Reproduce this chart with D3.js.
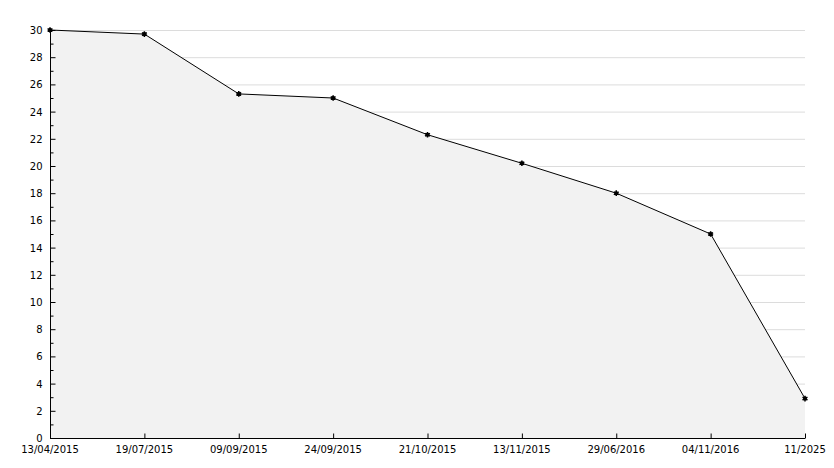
<!DOCTYPE html>
<html><head><meta charset="utf-8">
<script src="https://cdn.jsdelivr.net/npm/d3@7"></script>
<style>body{margin:0;background:#fff}text{font-family:"DejaVu Sans",sans-serif;font-size:10px;fill:#000}</style>
</head><body><svg width="834" height="468"></svg>
<script>
const categories=["13/04/2015","19/07/2015","09/09/2015","24/09/2015","21/10/2015","13/11/2015","29/06/2016","04/11/2016","11/2025"];
const values=[30,29.7,25.3,25,22.3,20.2,18,15,2.9];
const yTicks=d3.range(0,31,2);
const svg=d3.select("svg");
const x=d3.scalePoint().domain(categories).range([50,805]);
const y=d3.scaleLinear().domain([0,30]).range([438,30]);
svg.append("g").selectAll("line").data(yTicks.filter(d=>d>0)).join("line")
 .attr("x1",50).attr("x2",805).attr("y1",d=>y(d)+.5).attr("y2",d=>y(d)+.5).attr("stroke","#dcdcdc");
const data=categories.map((c,i)=>({c,v:values[i]}));
svg.append("path").datum(data).attr("fill","#f2f2f2")
 .attr("d",d3.area().x(d=>x(d.c)).y0(y(0)).y1(d=>y(d.v)));
svg.append("path").datum(data).attr("fill","none").attr("stroke","#000")
 .attr("d",d3.line().x(d=>x(d.c)).y(d=>y(d.v)));
svg.append("g").selectAll("path").data(data).join("path")
 .attr("transform",d=>`translate(${x(d.c)},${y(d.v)})`)
 .attr("d",d3.symbol(d3.symbolAsterisk,22)).attr("stroke","#000").attr("stroke-width",1.5);
svg.append("g").selectAll("circle").data(data).join("circle")
 .attr("cx",d=>x(d.c)).attr("cy",d=>y(d.v)).attr("r",2);
// axes
const ya=svg.append("g").attr("transform","translate(50.5,0)");
ya.append("line").attr("y1",y(30)).attr("y2",y(0)).attr("stroke","#000");
ya.selectAll(".mj").data(yTicks).join("line").attr("x1",0).attr("x2",5).attr("y1",d=>y(d)+.5).attr("y2",d=>y(d)+.5).attr("stroke","#000");
ya.selectAll(".mn").data(d3.range(1,30,2)).join("line").attr("x1",0).attr("x2",3).attr("y1",d=>y(d)+.5).attr("y2",d=>y(d)+.5).attr("stroke","#000");
ya.selectAll("text").data(yTicks).join("text").attr("x",-8).attr("y",d=>y(d)+4).attr("text-anchor","end").text(d=>d);
const xa=svg.append("g").attr("transform","translate(0,438.5)");
xa.append("line").attr("x1",50).attr("x2",805).attr("stroke","#000");
xa.selectAll("line.t").data(categories.slice(1)).join("line").attr("x1",d=>x(d)+.5).attr("x2",d=>x(d)+.5).attr("y1",0).attr("y2",-5).attr("stroke","#000");
xa.selectAll("text").data(categories).join("text").attr("x",d=>x(d)).attr("y",14).attr("text-anchor","middle").text(d=>d);
</script></body></html>
